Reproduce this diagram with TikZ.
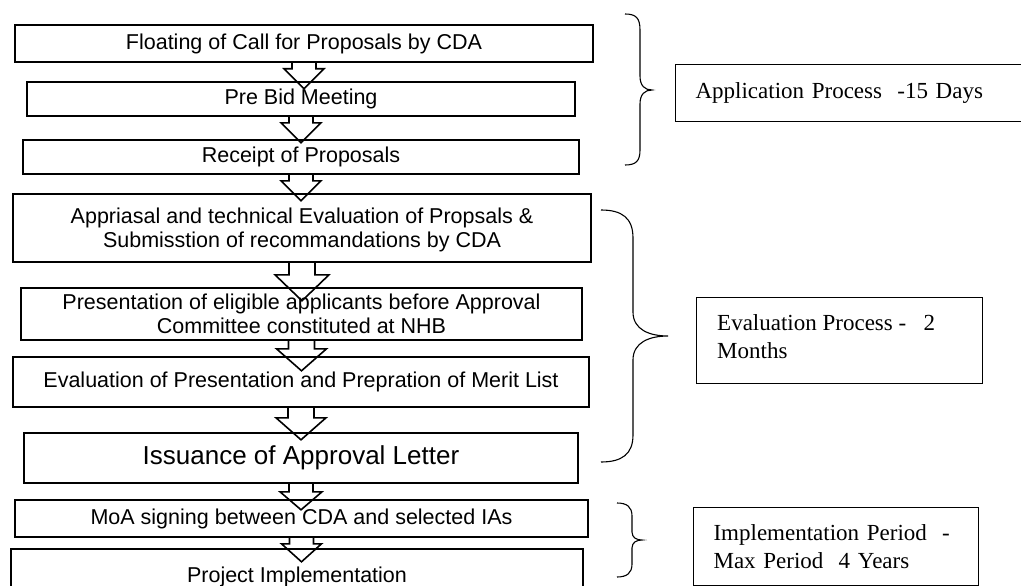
\documentclass[tikz,border=0pt]{standalone}
\usepackage{fontspec}
\setmainfont{Liberation Serif}
\setsansfont{Liberation Sans}
\usetikzlibrary{calc}
\newcommand\blkarrow[5]{%
  \draw[blk] ($(#1)+(-#4,0)$) -- ++(0,#2) -- ++({#4-#5},0) -- ++(#5,#3) -- ++(#5,-#3) -- ++({#4-#5},0) -- ++(0,-#2);}
\begin{document}
\begin{tikzpicture}[x=1pt,y=-1pt,
  stepfont/.style={font=\sffamily\fontsize{21.5}{24.5}\selectfont, align=center, inner sep=0pt},
  stepbox/.style={draw, line width=1.6pt, stepfont},
  notebox/.style={draw, line width=1.1pt, font=\rmfamily\fontsize{23}{28}\selectfont, align=left, inner xsep=20pt, anchor=north west},
  notetext/.style={font=\rmfamily\fontsize{23}{28}\selectfont, align=left, inner sep=0pt, anchor=north west},
  blk/.style={line width=1.6pt, line join=miter},
  brc/.style={line width=1.1pt}]
\clip (0,0) rectangle (1021,586);
\fill[white] (0,0) rectangle (1021,586);
% steps
\node[stepbox, minimum width=578pt, minimum height=37pt] (b1) at (304,43.5) {Floating of Call for Proposals by CDA};
\node[stepbox, minimum width=548pt, minimum height=34pt] (b2) at (301,99) {Pre Bid Meeting};
\node[stepbox, minimum width=556pt, minimum height=34pt] (b3) at (301,157) {Receipt of Proposals};
\node[stepbox, minimum width=578pt, minimum height=68pt] (b4) at (302,228) {};
\node[stepfont] (t4) at (302,230) {Appriasal and technical Evaluation of Propsals \&\\Submisstion of recommandations by CDA};
\node[stepbox, minimum width=561pt, minimum height=52pt] (b5) at (301.5,314) {Presentation of eligible applicants before Approval\\Committee constituted at NHB};
\node[stepbox, minimum width=576pt, minimum height=50pt] (b6) at (301,382) {Evaluation of Presentation and Prepration of Merit List};
\node[stepbox, minimum width=554pt, minimum height=50pt, font=\sffamily\fontsize{26}{30}\selectfont] (b7) at (301,458) {Issuance of Approval Letter};
\node[stepbox, minimum width=573pt, minimum height=37pt] (b8) at (301.5,518.5) {MoA signing between CDA and selected IAs};
\node[stepbox, minimum width=572pt, minimum height=56pt] (b9) at (297,577) {Project Implementation};
% block arrows
\blkarrow{b1.south}{6}{20}{12}{20}
\blkarrow{b2.south}{6}{20}{12}{20}
\blkarrow{b3.south}{6}{20}{12}{20}
\blkarrow{b4.south}{12}{26}{13}{27}
\blkarrow{b5.south}{8}{22}{13}{25}
\blkarrow{b6.south}{10}{22}{13}{25}
\blkarrow{b7.south}{8}{18}{12}{21}
\blkarrow{b8.south}{6}{18}{12}{20}
% note boxes
\node[notebox, minimum width=370pt, minimum height=57pt, text width=330pt] (app) at (675,64) {Application Process\ \ -15 Days};
\node[notebox, minimum width=286pt, minimum height=86pt] (eval) at (696,297) {};
\node[notetext] (evaltext) at (717,314) {Evaluation Process -\ \ \ 2\\Months};
\node[notebox, minimum width=285pt, inner ysep=17pt, text width=245pt] (impl) at (693,507) {Implementation Period\ \ -\\Max Period\ \ 4 Years};
% braces
\draw[brc] (625,14) .. controls (636,14) and (640,18) .. (640,30) -- (640,76) .. controls (640,86) and (645,90) .. (652,90)
  .. controls (645,90) and (640,94) .. (640,104) -- (640,150) .. controls (640,161) and (636,165) .. (625,165);
\draw[brc] (601,210) .. controls (622,210) and (633,218) .. (633,238) -- (633,312) .. controls (633,330) and (650,336) .. (668,336)
  .. controls (650,336) and (633,342) .. (633,360) -- (633,435) .. controls (633,454) and (622,462) .. (601,462);
\draw[brc] (617,503) .. controls (627,503) and (632,507) .. (632,516) -- (632,532) .. controls (632,538) and (637,540) .. (642,540)
  .. controls (637,540) and (632,542) .. (632,548) -- (632,564) .. controls (632,573) and (627,577) .. (617,577);
\end{tikzpicture}
\end{document}
